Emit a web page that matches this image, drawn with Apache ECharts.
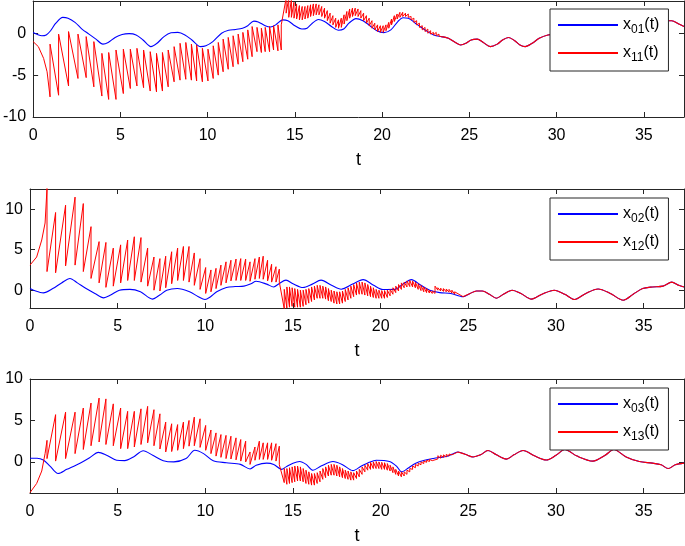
<!DOCTYPE html>
<html><head><meta charset="utf-8">
<script src="https://cdn.jsdelivr.net/npm/echarts@6/dist/echarts.min.js"></script>
<style>html,body{margin:0;padding:0;background:#fff}#c{width:685px;height:546px}</style>
</head><body><div id="c"></div>
<script>
// ---- tick labels ----
const xTicks = [0, 5, 10, 15, 20, 25, 30, 35];
const yTicks1 = [-10, -5, 0];
const yTicks2 = [0, 5, 10];
const yTicks3 = [0, 5, 10];

// ---- impulse instants (shared by all panels) ----
const impulseT1 = [0.97,1.46,2.03,2.57,3.04,3.48,3.94,4.33,4.75,5.17,5.57,5.95,6.33,6.71,7.07,7.41,7.74,8.08,8.42,8.75,
  9.07,9.37,9.70,10.02,10.32,10.61,10.89,11.18,11.46,11.75,12.02,12.30,12.55,12.83,13.08,13.30,13.55,13.78,14.03,14.22];
const impulseT2 = [14.50,14.65,14.80,14.95,15.10,15.26,15.42,15.58,15.74,15.90,16.06,16.22,16.38,16.54,16.70,16.86,17.02,17.18,17.34,17.50,
  17.66,17.82,17.98,18.14,18.30,18.46,18.62,18.78,18.94,19.10,19.26,19.42,19.58,19.74,19.90,20.06,20.22,20.38,20.54,20.70,
  20.86,21.02,21.18,21.34,21.50,21.66,21.82,21.98,22.14,22.30,22.46,22.62,22.78,22.94,23.10,23.26,23.42,23.58,23.74,23.90,24.06,24.22];

// ---- panel 1 ----
const blue1 = [[0,0.1],[0.25,-0.15],[0.5,-0.3],[0.75,-0.2],[1.0,0.3],[1.3,1.2],[1.7,1.9],[2.0,1.8],[2.4,1.3],[2.8,0.5],
  [3.2,-0.1],[3.6,-0.7],[4.0,-1.3],[4.3,-1.1],[4.7,-0.5],[5.1,-0.15],[5.5,-0.05],[5.9,-0.2],[6.3,-0.8],[6.75,-1.6],
  [7.1,-1.2],[7.5,-0.4],[7.9,0.05],[8.3,0.1],[8.7,-0.2],[9.1,-0.8],[9.6,-1.6],[9.9,-1.5],[10.3,-1.0],[10.8,0.0],
  [11.2,0.35],[11.6,0.45],[12.0,0.6],[12.3,0.9],[12.65,1.45],[12.9,1.35],[13.3,0.9],[13.6,0.75],[13.9,1.0],[14.3,1.6],
  [14.6,1.5],[15.0,0.9],[15.4,0.5],[15.7,0.6],[16.0,1.2],[16.35,1.65],[16.7,1.4],[17.1,0.8],[17.5,0.35],[17.8,0.5],
  [18.1,1.2],[18.5,1.75],[18.9,1.5],[19.3,0.9],[19.7,0.3],[20.1,0.08],[20.5,0.4],[20.9,1.4],[21.2,1.85],[21.5,1.8],
  [21.9,1.2],[22.2,0.75],[22.6,0.2],[23.0,-0.25],[23.4,-0.4],[23.8,-0.6],[24.2,-1.1],[24.5,-1.4],[24.8,-1.2],[25.1,-0.8],
  [25.45,-0.7],[25.8,-1.1],[26.2,-1.6],[26.6,-1.3],[26.9,-0.8],[27.25,-0.5],[27.6,-0.9],[27.9,-1.4],[28.2,-1.6],[28.6,-1.2],
  [29.0,-0.6],[29.5,-0.2],[30.0,-0.1],[30.6,-0.6],[31.2,-0.2],[32.0,0.3],[33.0,-0.5],[34.0,0.5],[35.0,0.8],[35.8,1.3],
  [36.3,1.5],[36.6,1.5],[37.0,1.1],[37.3,0.8]];
const red1Start = [[0,-1.0],[0.3,-1.6],[0.6,-3.0],[0.8,-4.6]];
const red1Jumps1 = [[-7.6,-1.3],[-7.4,-0.1],[-6.3,0.2],[-5.4,-0.1],[-5.3,-0.4],[-6.4,-1.0],[-7.5,-2.4],[-7.9,-2.3],[-7.9,-2.0],[-7.2,-1.9],
  [-6.6,-1.9],[-6.3,-1.8],[-6.5,-2.0],[-6.9,-2.2],[-7.0,-2.4],[-6.9,-2.3],[-6.4,-2.0],[-5.8,-1.6],[-5.6,-1.2],[-5.5,-1.1],
  [-5.6,-1.3],[-5.7,-1.4],[-5.8,-1.8],[-5.7,-1.9],[-5.4,-1.5],[-5.0,-1.1],[-4.6,-0.7],[-4.3,-0.5],[-4.0,-0.3],[-3.7,-0.1],
  [-3.4,0.1],[-3.1,0.4],[-2.8,0.8],[-2.2,0.7],[-2.3,0.6],[-2.2,0.7],[-2.2,0.8],[-2.0,0.9],[-2.1,1.0],[-2.0,1.0]];
const red1Jumps2 = [[4.2,2.4],[4.2,1.9],[4.0,1.9],[3.7,1.8],[3.5,1.7],[3.3,1.6],[3.2,1.6],[3.2,1.7],[3.3,1.8],[3.4,2.0],
  [3.5,2.1],[3.5,2.2],[3.4,2.2],[3.2,2.0],[3.0,1.8],[2.7,1.5],[2.4,1.2],[2.1,1.0],[1.8,0.7],[1.6,0.6],
  [1.8,0.7],[2.2,1.1],[2.6,1.5],[2.9,1.8],[3.0,2.0],[3.0,2.1],[2.9,2.0],[2.7,1.8],[2.4,1.5],[2.1,1.2],
  [1.8,0.9],[1.5,0.6],[1.2,0.4],[1.0,0.2],[0.9,0.1],[0.9,0.1],[1.0,0.3],[1.3,0.6],[1.7,1.0],[2.1,1.4],
  [2.3,1.7],[2.5,1.9],[2.5,2.0],[2.4,2.0],[2.3,1.9],[2.0,1.6],[1.8,1.3],[1.5,1.0],[1.2,0.7],[0.9,0.4],
  [0.7,0.2],[0.5,0.0],[0.3,-0.1],[0.1,-0.2],[0.1,-0.3],[-0.1,-0.35]];
const red1TailFrom = 23.4;

// ---- panel 2 ----
const blue2 = [[0,0.2],[0.2,0.0],[0.76,-0.33],[1.3,0.2],[1.8,0.9],[2.28,1.45],[2.7,0.9],[3.2,0.2],[3.7,-0.4],[4.2,-0.95],
  [4.6,-0.6],[5.1,0.0],[5.7,0.1],[6.3,-0.2],[6.98,-1.1],[7.4,-0.6],[7.8,0.0],[8.4,0.2],[9.1,-0.2],[9.6,-0.8],
  [9.98,-1.15],[10.3,-0.8],[10.65,-0.2],[11.2,0.33],[11.7,0.45],[12.2,0.5],[12.6,0.8],[12.9,1.1],[13.5,0.75],[13.9,0.4],
  [14.2,0.8],[14.6,1.24],[15.0,0.8],[15.57,0.33],[16.1,0.75],[16.6,1.24],[17.2,0.6],[17.75,0.12],[18.4,0.75],[19.0,1.3],
  [19.6,0.6],[20.13,0.08],[20.8,0.1],[21.3,0.8],[21.75,1.3],[22.3,0.6],[22.8,0.0],[23.37,-0.3],[24.0,-0.4],[24.7,-0.8],
  [25.1,-0.4],[25.46,-0.1],[25.8,-0.1],[26.2,-0.5],[26.6,-1.0],[27.0,-0.5],[27.5,0.0],[28.0,-0.4],[28.6,-1.1],[29.2,-0.5],
  [29.9,0.0],[30.5,-0.5],[31.05,-1.15],[31.7,-0.4],[32.4,0.15],[33.1,-0.4],[33.84,-1.24],[34.4,-0.5],[34.94,0.2],[35.5,0.4],
  [36.1,0.5],[36.6,1.0],[37.0,0.6],[37.3,0.4]];
const red2Start = [[0,3.1],[0.38,4.1],[0.67,6.2],[0.86,8.3]];
const red2Jumps1 = [[12.6,2.3],[9.6,2.15],[10.5,3.0],[11.5,3.1],[10.7,2.3],[7.85,1.45],[6.0,0.9],[5.9,0.35],[5.2,0.5],[5.6,0.9],
  [6.2,1.2],[6.6,1.2],[6.5,1.0],[5.2,0.5],[4.1,0.0],[3.9,-0.1],[4.2,0.3],[4.75,0.8],[5.2,1.2],[5.4,1.2],
  [5.4,1.0],[4.6,0.6],[3.9,0.1],[2.8,-0.4],[2.5,-0.2],[2.7,0.2],[3.1,0.6],[3.5,0.9],[3.7,1.15],[3.85,1.2],
  [3.9,1.2],[3.85,1.2],[3.5,1.1],[3.9,1.35],[4.1,1.45],[4.2,1.35],[3.7,1.15],[3.2,1.0],[2.9,1.0],[2.6,1.0]];
const red2Jumps2 = [[-2.3,0.1],[-2.2,0.4],[-2.1,0.4],[-2.0,0.3],[-2.1,0.2],[-2.1,0.1],[-2.1,0.0],[-2.0,0.0],[-1.8,0.1],[-1.6,0.2],
  [-1.4,0.4],[-1.2,0.5],[-1.0,0.6],[-1.0,0.6],[-1.0,0.5],[-1.1,0.4],[-1.3,0.2],[-1.4,0.0],[-1.6,-0.1],[-1.7,-0.2],
  [-1.7,-0.2],[-1.6,-0.1],[-1.4,0.1],[-1.2,0.3],[-1.0,0.5],[-0.8,0.7],[-0.6,0.9],[-0.5,1.0],[-0.5,1.0],[-0.6,0.9],
  [-0.7,0.7],[-0.8,0.5],[-0.9,0.3],[-1.0,0.1],[-1.0,0.0],[-1.0,-0.05],[-1.0,-0.05],[-0.9,0.0],[-0.7,0.1],[-0.5,0.3],
  [-0.3,0.5],[-0.1,0.7],[0.1,0.9],[0.3,1.0],[0.4,1.15],[0.45,1.2],[0.4,1.15],[0.3,1.0],[0.1,0.8],[-0.05,0.6],
  [-0.2,0.4],[-0.3,0.2],[-0.35,0.0],[-0.4,-0.1],[-0.4,0.5],[0.0,0.3],[-0.1,0.25],[-0.15,0.2],[-0.2,0.15],[-0.25,0.1],
  [-0.35,0.0],[-0.5,-0.2]];
const red2TailFrom = 24.7;

// ---- panel 3 ----
const blue3 = [[0,0.45],[0.4,0.45],[0.76,0.23],[1.14,-0.5],[1.6,-1.4],[2.1,-0.9],[2.85,-0.15],[3.4,0.5],[3.9,1.15],[4.37,0.8],
  [4.94,0.2],[5.4,0.15],[5.9,0.6],[6.46,1.35],[7.0,0.8],[7.6,0.15],[8.2,0.0],[8.9,0.4],[9.4,1.4],[9.9,1.0],
  [10.45,0.15],[11.2,-0.1],[12.0,-0.3],[12.55,-0.85],[12.9,-0.4],[13.5,-0.15],[13.9,-0.3],[14.35,-0.9],[14.6,-0.6],[15.0,-0.15],
  [15.38,0.05],[15.75,-0.3],[16.14,-1.0],[16.6,-0.5],[17.28,0.05],[17.8,-0.3],[18.42,-1.05],[18.9,-0.5],[19.4,0.0],[19.75,0.2],
  [20.5,0.05],[20.9,-0.5],[21.2,-1.2],[21.6,-0.7],[22.0,-0.15],[22.5,0.2],[23.0,0.42],[23.4,0.55],[23.75,0.65],[24.1,0.95],
  [24.41,1.2],[24.85,0.9],[25.27,0.6],[25.7,0.85],[26.12,1.37],[26.6,0.85],[27.17,0.34],[27.6,0.85],[28.12,1.37],[28.8,0.7],
  [29.45,0.23],[30.0,0.8],[30.5,1.5],[31.2,0.7],[32.1,0.1],[32.8,0.8],[33.3,1.5],[34.0,0.6],[34.75,0.04],[35.5,-0.15],
  [36.0,-0.35],[36.4,-0.8],[36.8,-0.35],[37.3,-0.15]];
const red3Start = [[0,-3.7],[0.38,-2.6],[0.67,-1.1],[0.86,1.0]];
const red3Jumps1 = [[2.6,0.4],[5.7,0.1],[6.0,0.4],[6.0,1.0],[6.5,1.5],[7.1,1.95],[7.7,2.4],[7.6,2.1],[7.0,1.95],[6.5,1.6],
  [6.1,1.6],[6.1,1.8],[6.4,2.1],[6.7,2.3],[6.3,1.95],[5.8,1.56],[4.8,1.2],[4.6,1.25],[4.5,1.4],[4.8,1.6],
  [5.0,1.9],[5.4,1.95],[5.2,1.75],[4.4,1.4],[3.85,1.0],[3.5,0.7],[3.3,0.55],[3.2,0.4],[3.1,0.35],[2.9,0.25],
  [2.7,0.1],[2.5,0.0],[1.2,-0.3],[1.8,0.2],[2.5,0.3],[2.3,0.3],[2.3,0.3],[2.3,0.2],[2.2,0.1],[1.9,-0.35]];
const red3Jumps2 = [[-2.5,-0.8],[-2.7,-0.8],[-2.6,-0.7],[-2.5,-0.6],[-2.4,-0.5],[-2.3,-0.5],[-2.3,-0.6],[-2.4,-0.8],[-2.6,-1.0],[-2.7,-1.2],
  [-2.8,-1.4],[-2.8,-1.4],[-2.6,-1.3],[-2.4,-1.1],[-2.1,-0.8],[-1.9,-0.6],[-1.7,-0.4],[-1.6,-0.3],[-1.6,-0.3],[-1.7,-0.4],
  [-1.8,-0.6],[-1.9,-0.8],[-2.0,-1.0],[-2.1,-1.1],[-2.2,-1.2],[-2.2,-1.3],[-2.0,-1.1],[-1.8,-0.9],[-1.5,-0.6],[-1.2,-0.4],
  [-1.0,-0.2],[-0.9,-0.05],[-0.8,0.0],[-0.8,0.05],[-0.8,0.0],[-0.9,-0.05],[-0.9,-0.1],[-1.0,-0.2],[-1.1,-0.4],[-1.3,-0.6],
  [-1.5,-0.9],[-1.7,-1.1],[-1.8,-1.2],[-1.7,-1.2],[-1.5,-1.0],[-1.2,-0.8],[-0.9,-0.5],[-0.7,-0.3],[-0.5,-0.15],[-0.35,0.0],
  [-0.2,0.1],[-0.05,0.2],[0.05,0.3],[0.15,0.35],[0.25,0.4],[0.35,0.75],[0.45,0.8],[0.55,0.85],[0.6,0.9],[0.7,0.95],
  [0.85,1.05]];
const red3TailFrom = 24.41;

// ---- build ----
const FONT = '"Liberation Sans", Arial, Helvetica, sans-serif';
const AX = '#262626';
const BLUE = '#0000ff', RED = '#ff0000';

function buildRed(start, jumps1, jumps2, blue, tailFrom) {
  const pts = start.slice();
  jumps1.forEach((j, i) => { pts.push([impulseT1[i], j[0]], [impulseT1[i], j[1]]); });
  jumps2.forEach((j, i) => { pts.push([impulseT2[i], j[0]], [impulseT2[i], j[1]]); });
  const tail = blue.filter(p => p[0] >= tailFrom);
  pts.push(tail[0]);
  return { main: pts, tail: tail };
}

const panels = [
  { top: 1, height: 116, ymin: -10, ymax: 3.85, yTicks: yTicks1, blue: blue1,
    red: buildRed(red1Start, red1Jumps1, red1Jumps2, blue1, red1TailFrom), names: ['x01', 'x11'], legendTop: 9 },
  { top: 189, height: 119, ymin: -2.2, ymax: 12.5, yTicks: yTicks2, blue: blue2,
    red: buildRed(red2Start, red2Jumps1, red2Jumps2, blue2, red2TailFrom), names: ['x02', 'x12'], legendTop: 198 },
  { top: 379, height: 119, ymin: -3.75, ymax: 10, yTicks: yTicks3, blue: blue3,
    red: buildRed(red3Start, red3Jumps1, red3Jumps2, blue3, red3TailFrom), names: ['x03', 'x13'], legendTop: 388 }
];

const grid = [], xAxis = [], yAxis = [], series = [], legend = [];
panels.forEach((p, k) => {
  grid.push({ left: 30, width: 654, top: p.top, height: p.height });
  const lineS = { show: true, onZero: false, lineStyle: { color: AX, width: 1 } };
  const tickS = (vals) => ({ show: true, inside: true, length: 5, customValues: vals, lineStyle: { color: AX, width: 1 } });
  xAxis.push({ type: 'value', gridIndex: k, min: 0, max: 37.3, position: 'bottom',
    axisLine: lineS, axisTick: tickS(xTicks), splitLine: { show: false },
    axisLabel: { show: true, customValues: xTicks, margin: 11, fontSize: 16, fontFamily: FONT, color: '#000' },
    name: 't', nameLocation: 'middle', nameGap: 34,
    nameTextStyle: { fontSize: 18, fontFamily: FONT, color: '#000' } });
  xAxis.push({ type: 'value', gridIndex: k, min: 0, max: 37.3, position: 'top',
    axisLine: lineS, axisTick: tickS(xTicks), splitLine: { show: false }, axisLabel: { show: false } });
  yAxis.push({ type: 'value', gridIndex: k, min: p.ymin, max: p.ymax, position: 'left',
    axisLine: lineS, axisTick: tickS(p.yTicks), splitLine: { show: false },
    axisLabel: { show: true, customValues: p.yTicks, margin: 7, fontSize: 16, fontFamily: FONT, color: '#000' } });
  yAxis.push({ type: 'value', gridIndex: k, min: p.ymin, max: p.ymax, position: 'right',
    axisLine: lineS, axisTick: tickS(p.yTicks), splitLine: { show: false }, axisLabel: { show: false } });

  const common = { type: 'line', xAxisIndex: 2 * k, yAxisIndex: 2 * k, symbol: 'none', showSymbol: false, animation: false };
  series.push(Object.assign({}, common, { name: p.names[0], data: p.blue, smooth: 0.3,
    lineStyle: { color: BLUE, width: 1.1 }, itemStyle: { color: BLUE } }));
  series.push(Object.assign({}, common, { name: p.names[1], data: p.red.main,
    lineStyle: { color: RED, width: 1 }, itemStyle: { color: RED } }));
  series.push(Object.assign({}, common, { name: p.names[1], data: p.red.tail, smooth: 0.3,
    lineStyle: { color: RED, width: 1.1 }, itemStyle: { color: RED } }));

  legend.push({ data: p.names, orient: 'vertical', left: 550, top: p.legendTop,
    backgroundColor: '#fff', borderColor: AX, borderWidth: 1, padding: [8, 9, 7, 7],
    itemGap: 9, itemWidth: 60, itemHeight: 14, selectedMode: false,
    itemStyle: { opacity: 0 },
    formatter: name => '{n|x}{s|' + name.slice(1) + '}{n|(t)}',
    textStyle: { fontFamily: FONT, color: '#000',
      rich: { n: { fontSize: 16, lineHeight: 22, fontFamily: FONT, color: '#000', verticalAlign: 'middle' },
              s: { fontSize: 12, lineHeight: 6, fontFamily: FONT, color: '#000', verticalAlign: 'bottom' } } } });
});

const chart = echarts.init(document.getElementById('c'), null, { renderer: 'canvas' });
chart.setOption({ animation: false, backgroundColor: '#fff', grid, xAxis, yAxis, series, legend });
</script>
</body></html>
